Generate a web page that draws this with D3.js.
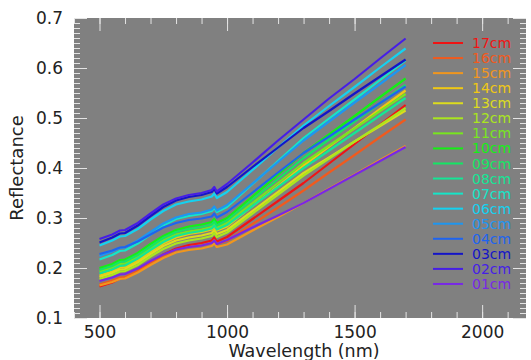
<!DOCTYPE html>
<html>
<head>
<meta charset="utf-8">
<script src="https://cdn.jsdelivr.net/npm/d3@7"></script>
<style>
  body { margin: 0; background: #fff; }
  text { font-family: "DejaVu Sans", sans-serif; }
</style>
</head>
<body>
<div id="chart-container"></div>
<script>
// wavelength samples (nm)
const wavelengths = [500, 550, 580, 600, 650, 700, 750, 800, 850, 900, 940, 950, 960, 1000, 1100, 1200, 1300, 1400, 1500, 1600, 1700]

// depth labels, in legend order
const depths = ['17cm', '16cm', '15cm', '14cm', '13cm', '12cm', '11cm', '10cm', '09cm', '08cm', '07cm', '06cm', '05cm', '04cm', '03cm', '02cm', '01cm']

const colors = ['#f01414', '#f05a1e', '#f0961e', '#f0c814', '#dcdc1e', '#aae61e', '#78e61e', '#14f014', '#14e664', '#14e696',
  '#14e6c8', '#14d2f0', '#1e96f0', '#1e64f0', '#1414c8', '#461ee6', '#7828e6']

// reflectance per depth, same order as depths
const r17 = [.163, .171, .179, .180, .193, .211, .227, .239, .246, .250, .255, .261, .253, .262, .298, .334, .370, .409, .448, .487, .526]
const r16 = [.167, .175, .181, .182, .194, .210, .225, .236, .242, .245, .250, .256, .248, .254, .288, .321, .355, .391, .426, .462, .497]
const r15 = [.165, .172, .178, .179, .191, .206, .220, .231, .236, .239, .244, .249, .242, .247, .275, .302, .330, .359, .387, .416, .444]
const r14 = [.185, .193, .201, .202, .215, .233, .249, .261, .268, .272, .277, .283, .275, .283, .324, .364, .405, .443, .480, .518, .555]
const r13 = [.182, .190, .197, .198, .211, .228, .244, .255, .261, .265, .270, .276, .268, .276, .314, .352, .390, .421, .453, .484, .515]
const r12 = [.178, .186, .193, .194, .206, .223, .238, .249, .255, .259, .264, .270, .262, .271, .309, .347, .385, .419, .453, .486, .520]
const r11 = [.193, .201, .208, .209, .222, .239, .255, .267, .273, .277, .282, .288, .280, .290, .330, .370, .410, .445, .479, .514, .548]
const r10 = [.200, .208, .216, .217, .230, .248, .264, .276, .283, .287, .292, .298, .290, .300, .343, .387, .430, .467, .504, .542, .579]
const r09 = [.196, .204, .212, .213, .226, .243, .260, .272, .278, .282, .287, .293, .285, .295, .337, .378, .420, .457, .493, .530, .566]
const r08 = [.189, .197, .204, .205, .219, .236, .252, .264, .270, .274, .279, .285, .277, .286, .324, .362, .400, .435, .470, .505, .540]
const r07 = [.217, .226, .234, .235, .249, .267, .285, .298, .304, .308, .314, .320, .312, .322, .368, .414, .460, .499, .537, .576, .615]
const r06 = [.245, .255, .263, .264, .278, .297, .314, .327, .333, .337, .343, .349, .340, .352, .396, .441, .485, .524, .562, .601, .639]
const r05 = [.224, .233, .240, .241, .255, .272, .289, .301, .308, .311, .317, .323, .315, .326, .369, .412, .455, .493, .531, .568, .606]
const r04 = [.228, .235, .241, .242, .253, .267, .281, .290, .296, .299, .303, .309, .301, .312, .351, .391, .430, .463, .497, .530, .563]
const r03 = [.251, .261, .269, .270, .285, .304, .322, .335, .342, .346, .352, .358, .349, .362, .402, .441, .480, .514, .549, .583, .617]
const r02 = [.258, .267, .275, .276, .290, .309, .327, .339, .346, .350, .356, .362, .353, .368, .411, .455, .497, .539, .578, .619, .659]
const r01 = [.174, .181, .187, .188, .199, .214, .227, .237, .242, .245, .250, .255, .248, .256, .281, .305, .330, .358, .386, .414, .442]

const reflect = [r17, r16, r15, r14, r13, r12, r11, r10, r09, r08, r07, r06, r05, r04, r03, r02, r01]

const xTicks = [500, 1000, 1500, 2000]
const yTicks = [0.1, 0.2, 0.3, 0.4, 0.5, 0.6, 0.7]

// Set dimensions and margins

const margin = { top: 18, right: 5, bottom: 42, left: 74 }
const width = 531 - margin.left - margin.right
const height = 360 - margin.top - margin.bottom

const x = d3.scaleLinear().domain([400, 2172]).range([0, width])
const y = d3.scaleLinear().domain([0.1, 0.7]).range([height, 0])

const svg = d3
  .select('#chart-container')
  .append('svg')
  .attr('width', width + margin.left + margin.right)
  .attr('height', height + margin.top + margin.bottom)
  .append('g')
  .attr('transform', `translate(${margin.left},${margin.top})`)

svg.append('rect').attr('width', width).attr('height', height).attr('fill', '#808080')

// ticks on all four sides, pointing inward
const tickColor = '#e4e4e4'
const xMinor = d3.range(400, 2172, 100)
const yMinor = d3.range(10, 71).map((d) => d / 100)

function addAxis(axis, transform, values, size, labels) {
  const g = svg.append('g').attr('transform', transform)
  g.call(axis.tickValues(values).tickSize(-size).tickPadding(labels ? 8 : 0).tickFormat(labels ? labels : ''))
  g.select('.domain').remove()
  g.selectAll('.tick line').attr('stroke', tickColor).attr('stroke-width', 1)
  return g
}

addAxis(d3.axisBottom(x), `translate(0,${height})`, xMinor, 6, null)
addAxis(d3.axisTop(x), 'translate(0,0)', xMinor, 6, null)
addAxis(d3.axisLeft(y), 'translate(0,0)', yMinor, 6, null)
addAxis(d3.axisRight(y), `translate(${width},0)`, yMinor, 6, null)

const gx = addAxis(d3.axisBottom(x), `translate(0,${height})`, xTicks, 13, d3.format('d'))
gx.selectAll('text').attr('font-size', 17).attr('fill', '#222')
addAxis(d3.axisTop(x), 'translate(0,0)', xTicks, 13, null)
const gy = addAxis(d3.axisLeft(y), 'translate(0,0)', yTicks, 13, d3.format('.1f'))
gy.selectAll('.tick text').attr('font-size', 17).attr('fill', '#222').attr('x', -11)
addAxis(d3.axisRight(y), `translate(${width},0)`, yTicks, 13, null)

// spectra lines

const line = d3
  .line()
  .x((d, i) => x(wavelengths[i]))
  .y((d) => y(d))

svg
  .selectAll('.spectrum')
  .data(reflect)
  .enter()
  .append('path')
  .attr('class', 'spectrum')
  .attr('fill', 'none')
  .attr('stroke', (d, i) => colors[i])
  .attr('stroke-width', 2.2)
  .attr('stroke-linejoin', 'round')
  .attr('d', line)

// legend

const legend = svg
  .selectAll('.legend')
  .data(depths)
  .enter()
  .append('g')
  .attr('class', 'legend')
  .attr('transform', (d, i) => `translate(359,${25 + i * 15.06})`)

legend
  .append('line')
  .attr('x1', 0)
  .attr('x2', 30)
  .attr('stroke', (d, i) => colors[i])
  .attr('stroke-width', 2)

legend
  .append('text')
  .attr('x', 39)
  .attr('dy', '0.36em')
  .attr('font-size', 14)
  .attr('fill', (d, i) => colors[i])
  .text((d) => d)

// axis titles

svg
  .append('text')
  .attr('x', width / 2 + 4)
  .attr('y', height + 39)
  .attr('text-anchor', 'middle')
  .attr('font-size', 17.5)
  .attr('fill', '#222')
  .text('Wavelength (nm)')

svg
  .append('text')
  .attr('transform', `translate(${17 - margin.left + 6},${height / 2}) rotate(-90)`)
  .attr('text-anchor', 'middle')
  .attr('font-size', 18)
  .attr('fill', '#222')
  .text('Reflectance')
</script>
</body>
</html>
